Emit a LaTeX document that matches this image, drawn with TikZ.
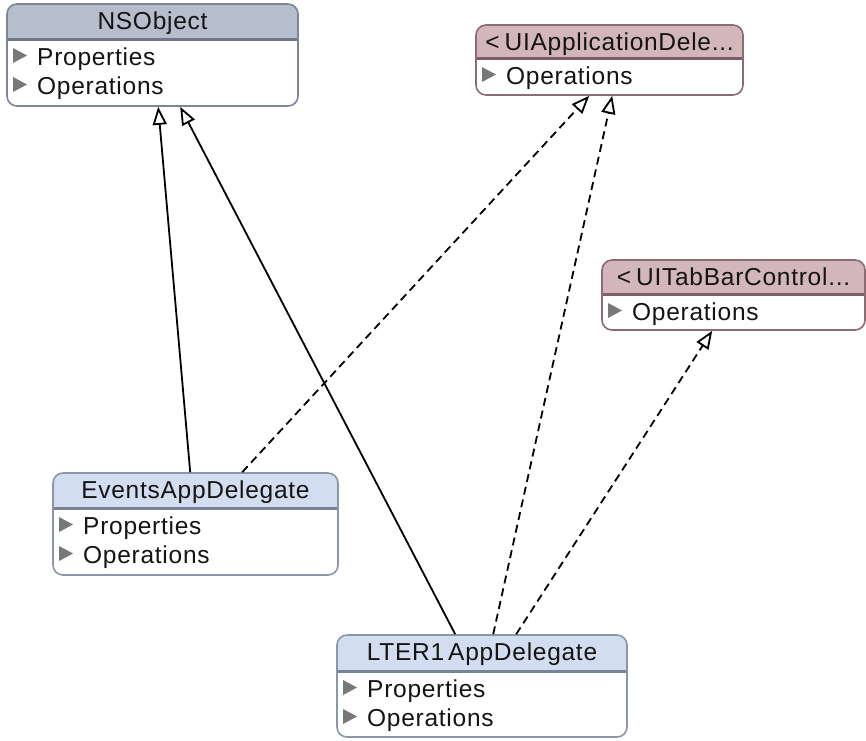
\documentclass[tikz,border=0pt]{standalone}
\usepackage{fontspec}
\setmainfont{Liberation Sans}[LetterSpace=3]
\usetikzlibrary{arrows.meta,calc,fit}
\definecolor{nshdr}{RGB}{182,190,205}
\definecolor{nsbd}{RGB}{125,133,150}
\definecolor{nssep}{RGB}{110,118,136}
\definecolor{prhdr}{RGB}{210,182,187}
\definecolor{prbd}{RGB}{140,108,116}
\definecolor{prsep}{RGB}{125,94,104}
\definecolor{clhdr}{RGB}{210,222,240}
\definecolor{clbd}{RGB}{140,150,170}
\definecolor{clsep}{RGB}{120,130,150}
\definecolor{txt}{RGB}{20,20,20}
\definecolor{tri}{RGB}{120,120,120}
\tikzset{
  boxtext/.style={text=txt, inner sep=0pt, font=\fontsize{24.5pt}{28pt}\selectfont},
  gen/.style={line width=1.8pt, -{Triangle[fill=white, length=18pt, width=14pt]}},
  real/.style={gen, dash pattern=on 8pt off 5pt},
}
% #1 name, #2 x1, #3 y1, #4 x2, #5 y2, #6 sep y, #7 kind, #8 title
\newcommand{\umlclass}[8]{%
  \begin{scope}
    \clip[rounded corners=10pt] (#2,#3) rectangle (#4,#5);
    \fill[#7hdr] (#2,#3) rectangle (#4,#6);
    \fill[white] (#2,#6) rectangle (#4,#5);
    \draw[#7sep, line width=3pt] (#2,#6) -- (#4,#6);
  \end{scope}
  \node[fit={(#2,#3) (#4,#5)}, inner sep=0pt, draw=#7bd, line width=1.6pt, rounded corners=10pt] (#1) {};
  \node[boxtext, anchor=base] (#1-title) at ($(#2,#3)!0.5!(#4,#3)+(0,25)$) {#8};
}
% #1 name, #2 x1, #3 baseline, #4 text
\newcommand{\umlrow}[4]{%
  \fill[tri] (#2+6,#3-17) -- (#2+6,#3-2) -- (#2+20,#3-9.5) -- cycle;
  \node[boxtext, anchor=base west] (#1) at (#2+30,#3) {#4};
}
\begin{document}
\begin{tikzpicture}[x=1pt,y=-1pt]
\useasboundingbox (0,0) rectangle (866,740);
\fill[white] (0,0) rectangle (866,740);

\umlclass{ns}{7}{4}{298}{106}{39}{ns}{NSObject}
\umlrow{ns-p}{7}{65}{Properties}
\umlrow{ns-o}{7}{94}{Operations}

\umlclass{ua}{476}{25}{743}{95}{58}{pr}{<\hspace{5pt}UIApplicationDele...}
\umlrow{ua-o}{476}{84}{Operations}

\umlclass{ut}{602}{260}{865}{330}{294}{pr}{<\hspace{5pt}UITabBarControl...}
\umlrow{ut-o}{602}{320}{Operations}

\umlclass{ev}{53}{473}{338}{575}{508}{cl}{EventsAppDelegate}
\umlrow{ev-p}{53}{534}{Properties}
\umlrow{ev-o}{53}{563}{Operations}

\umlclass{lt}{337}{635}{627}{737}{671}{cl}{LTER1\hspace{4pt}AppDelegate}
\umlrow{lt-p}{337}{697}{Properties}
\umlrow{lt-o}{337}{726}{Operations}

\draw[gen] ($(ev.north west)+(138,0)$) -- ($(ns.south west)+(152,0)$);
\draw[gen] ($(lt.north west)+(119,0)$) -- ($(ns.south west)+(174,0)$);
\draw[real] ($(ev.north west)+(190,0)$) -- ($(ua.south west)+(114,0)$);
\draw[real] ($(lt.north west)+(157,0)$) -- ($(ua.south west)+(137,0)$);
\draw[real] ($(lt.north west)+(180,0)$) -- ($(ut.south west)+(111,0)$);
\end{tikzpicture}
\end{document}
